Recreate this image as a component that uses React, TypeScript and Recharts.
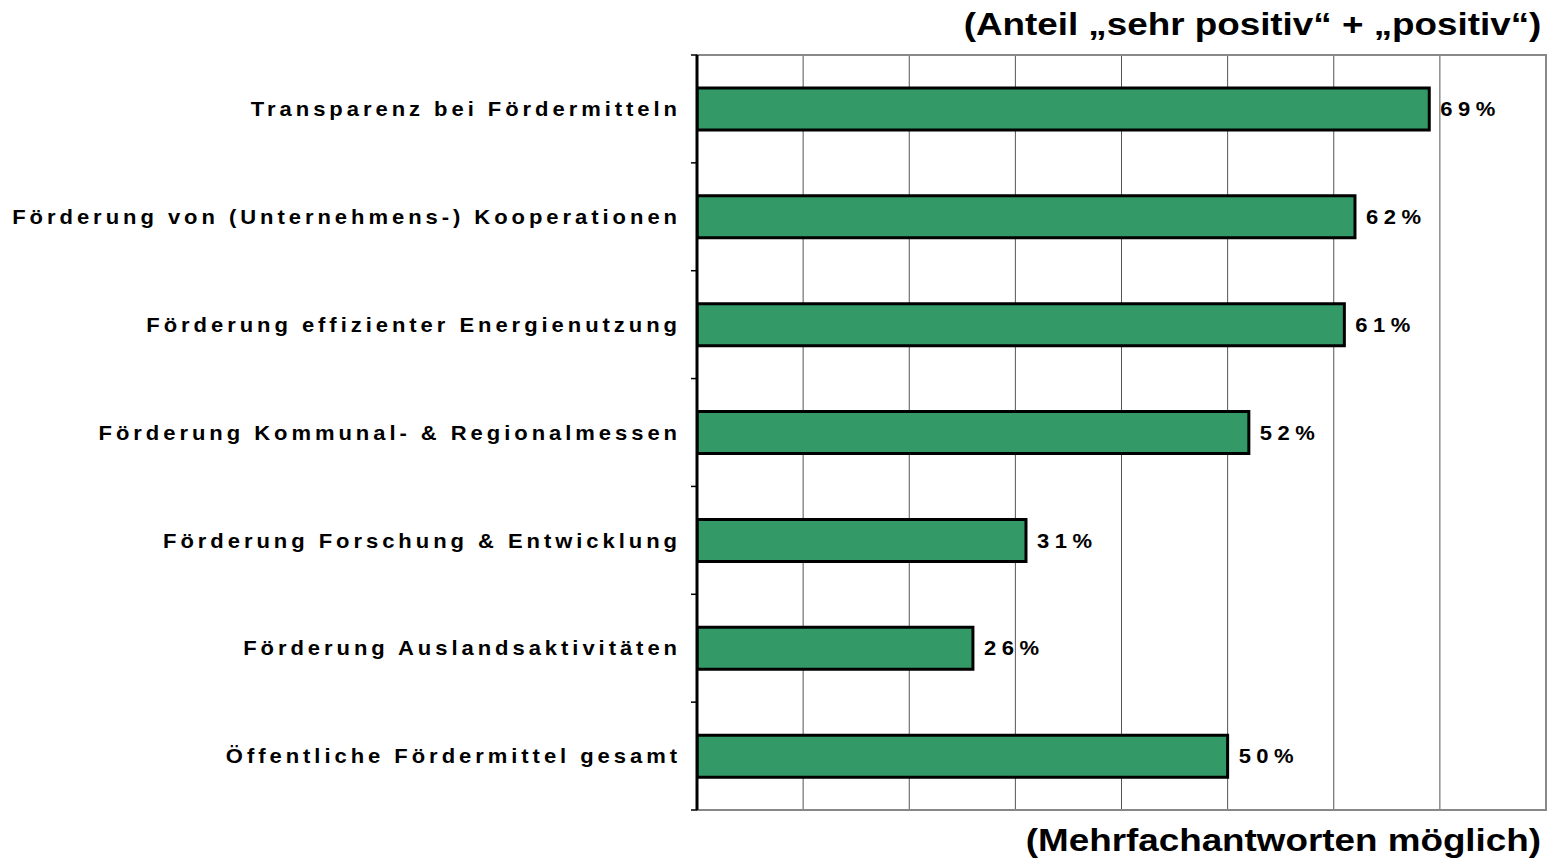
import React from "react";
import {
  BarChart,
  Bar,
  XAxis,
  YAxis,
  CartesianGrid,
  LabelList,
  ReferenceArea,
} from "recharts";

const categories = [
  "Transparenz bei Fördermitteln",
  "Förderung von (Unternehmens-) Kooperationen",
  "Förderung effizienter Energienutzung",
  "Förderung Kommunal- & Regionalmessen",
  "Förderung Forschung & Entwicklung",
  "Förderung Auslandsaktivitäten",
  "Öffentliche Fördermittel gesamt",
];
const values = [69, 62, 61, 52, 31, 26, 50];
const xTicks = [0, 10, 20, 30, 40, 50, 60, 70, 80];
const titleText = "(Anteil „sehr positiv“ + „positiv“)";
const noteText = "(Mehrfachantworten möglich)";

const data = categories.map((name, i) => ({ name, value: values[i] }));

const FONT = "'Liberation Sans', Arial, Helvetica, sans-serif";

const CategoryTick = (props: any) => {
  const { x, y, payload } = props;
  const half = payload && payload.offset ? payload.offset : 0;
  const isFirst = props.index === 0;
  return (
    <g>
      <line x1={x - 6} x2={x} y1={y + half} y2={y + half} stroke="#000" strokeWidth={1.5} />
      {isFirst && (
        <line x1={x - 6} x2={x} y1={y - half} y2={y - half} stroke="#000" strokeWidth={1.5} />
      )}
      <text
        transform={`translate(${x - 16},${y}) scale(1.1,1)`}
        x={0}
        y={0}
        dy="0.36em"
        textAnchor="end"
        fill="#000"
        style={{
          fontFamily: FONT,
          fontWeight: "bold",
          fontSize: 20,
          letterSpacing: 3.6,
        }}
      >
        {payload.value}
      </text>
    </g>
  );
};

const ValueLabel = (props: any) => {
  const { x, y, width, height, value } = props;
  return (
    <text
      transform={`translate(${x + width + 11},${y + height / 2}) scale(1.1,1)`}
      x={0}
      y={0}
      dy="0.36em"
      textAnchor="start"
      fill="#000"
      style={{
        fontFamily: FONT,
        fontWeight: "bold",
        fontSize: 20,
        letterSpacing: 5,
      }}
    >
      {value + "%"}
    </text>
  );
};

export default function App() {
  return (
    <div
      style={{
        position: "absolute",
        left: 0,
        top: 0,
        width: 1557,
        height: 862,
        background: "#fff",
        overflow: "hidden",
      }}
    >
      <BarChart
        width={1557}
        height={862}
        data={data}
        layout="vertical"
        margin={{ top: 55, right: 11, bottom: 52, left: 0 }}
      >
        <CartesianGrid horizontal={false} stroke="#555" strokeWidth={1} />
        <XAxis
          type="number"
          domain={[0, 80]}
          ticks={xTicks}
          hide
          allowDataOverflow
        />
        <YAxis
          type="category"
          dataKey="name"
          width={697}
          axisLine={{ stroke: "#000", strokeWidth: 3 }}
          tickLine={false}
          tickSize={0}
          tickMargin={0}
          tick={<CategoryTick />}
          interval={0}
        />
        <ReferenceArea
          x1={0}
          x2={80}
          fill="none"
          stroke="#888"
          strokeWidth={2}
          ifOverflow="visible"
        />
        <Bar
          dataKey="value"
          fill="#339966"
          stroke="#000"
          strokeWidth={3}
          barSize={42}
          isAnimationActive={false}
        >
          <LabelList dataKey="value" content={<ValueLabel />} />
        </Bar>
      </BarChart>
      <div
        style={{
          position: "absolute",
          right: 16,
          top: 4,
          fontFamily: FONT,
          fontWeight: "bold",
          fontSize: 32,
          lineHeight: "40px",
          whiteSpace: "nowrap",
          transform: "scaleX(1.15)",
          transformOrigin: "right center",
          color: "#000",
        }}
      >
        {titleText}
      </div>
      <div
        style={{
          position: "absolute",
          right: 16,
          top: 820,
          fontFamily: FONT,
          fontWeight: "bold",
          fontSize: 32,
          lineHeight: "40px",
          whiteSpace: "nowrap",
          transform: "scaleX(1.15)",
          transformOrigin: "right center",
          color: "#000",
        }}
      >
        {noteText}
      </div>
    </div>
  );
}
